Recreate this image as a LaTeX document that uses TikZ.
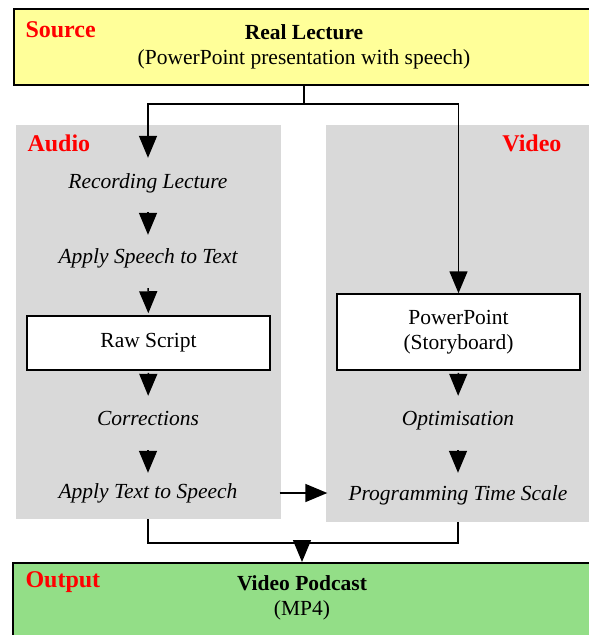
\documentclass[tikz,border=0pt]{standalone}
\usepackage{fontspec}
\setmainfont{Liberation Serif}
\usetikzlibrary{arrows.meta}
\definecolor{srcyellow}{RGB}{255,255,153}
\definecolor{outgreen}{RGB}{147,222,135}
\definecolor{panelgray}{RGB}{217,217,217}
\begin{document}
\begin{tikzpicture}[x=1pt,y=-1pt,
  every node/.style={font=\fontsize{21.5}{25}\selectfont},
  arr/.style={-{Triangle[length=22pt,width=18pt]}, line width=1.5pt},
  ln/.style={line width=1.5pt},
  panel/.style={fill=panelgray, inner sep=0pt},
  bigbox/.style={draw, line width=1.5pt, inner sep=0pt, align=center},
  box/.style={draw, line width=1.5pt, fill=white, minimum width=243pt, inner sep=0pt, align=center},
  grouplbl/.style={font=\fontsize{24}{28}\selectfont\bfseries, text=red},
  stage/.style={font=\fontsize{21.5}{25}\selectfont\itshape, inner sep=0pt, text height=15.5pt, text depth=4.5pt}
]
\clip (0,0) rectangle (589,635);
\fill[white] (0,0) rectangle (589,635);
% panels
\node[panel, minimum width=265pt, minimum height=394pt] (audio) at (148.5,322) {};
\node[panel, minimum width=274pt, minimum height=397pt] (video) at (463,323.5) {};
% source
\node[bigbox, fill=srcyellow, minimum width=580pt, minimum height=76pt] (src) at (304,47)
  {\textbf{Real Lecture}\\(PowerPoint presentation with speech)};
\node[grouplbl, anchor=west] (srclbl) at (22,30) {Source};
\node[grouplbl, anchor=west] (audlbl) at (24,143) {Audio};
\node[grouplbl, anchor=east] (vidlbl) at (565,143) {Video};
% audio column
\node[stage] (rec) at (148,183) {Recording Lecture};
\node[stage] (s2t) at (148,258) {Apply Speech to Text};
\node[box, minimum height=54pt] (raw) at (148.5,343) {Raw Script};
\node[stage] (corr) at (148,420) {Corrections};
\node[stage] (t2s) at (148,493) {Apply Text to Speech};
% video column
\node[box, minimum height=76pt] (ppt) at (458.5,332) {PowerPoint\\(Storyboard)};
\node[stage] (opt) at (458,420) {Optimisation};
\node[stage] (pts) at (458,495) {Programming Time Scale};
% output
\node[bigbox, fill=outgreen, minimum width=578pt, minimum height=90pt, anchor=north] (out) at (302,562) {};
\node[align=center] (outtxt) at (302,598) {\textbf{Video Podcast}\\(MP4)};
\node[grouplbl, anchor=west] (outlbl) at (22,582) {Output};
% connectors
\coordinate (split) at (304,104);
\draw[ln] (src.south) -- (split);
\draw[arr, shorten >=15pt] (split) -| (rec.north);
\draw[arr] (split) -| (ppt.north);
\draw[arr, shorten <=19pt, shorten >=13pt] (rec) -- (s2t);
\draw[arr, shorten <=20pt, shorten >=2pt] (s2t) -- (raw);
\draw[arr, shorten <=2pt, shorten >=14pt] (raw) -- (corr);
\draw[arr, shorten <=20pt, shorten >=10pt] (corr) -- (t2s);
\draw[arr, shorten <=2pt, shorten >=14pt] (ppt) -- (opt);
\draw[arr, shorten <=20pt, shorten >=12pt] (opt) -- (pts);
\draw[arr, shorten <=42pt, shorten >=21pt] (t2s.east) -- (pts.west |- t2s.east);
\coordinate (merge) at (302,543);
\draw[ln] (t2s |- audio.south) -- (t2s |- merge) -- (pts |- merge) -- (pts |- video.south);
\draw[arr] (merge) -- (out.north);
\end{tikzpicture}
\end{document}
